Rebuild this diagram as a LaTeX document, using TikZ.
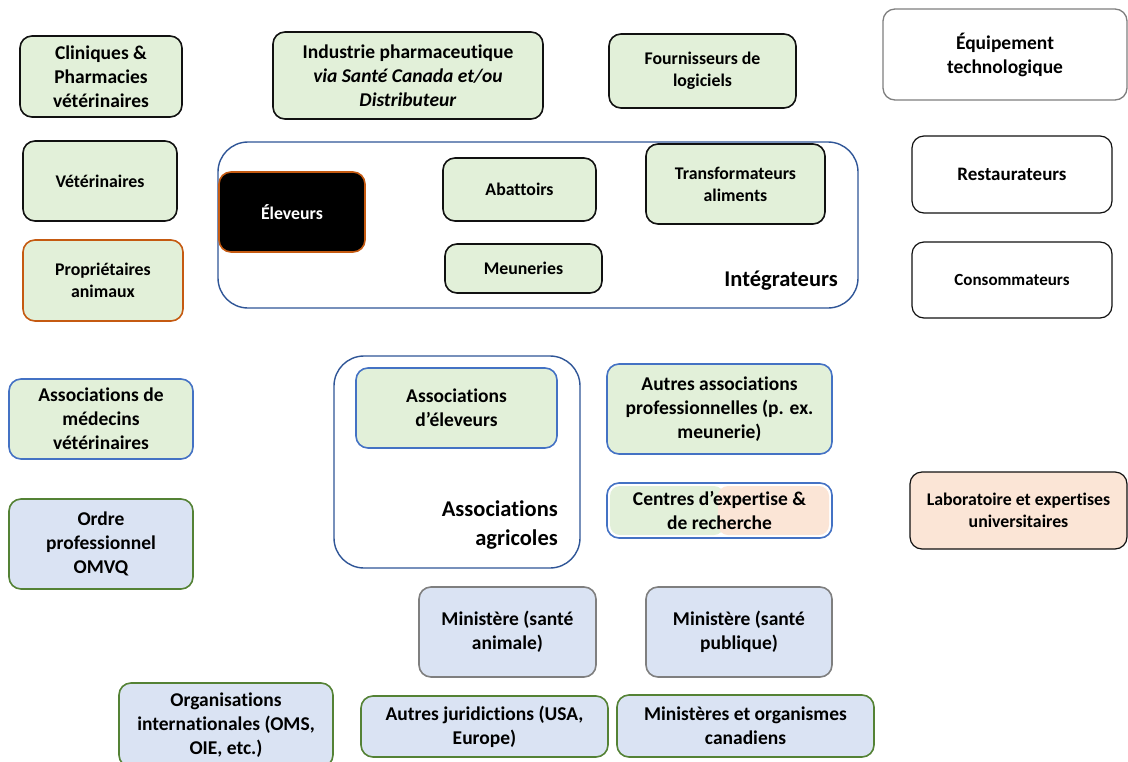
\documentclass[tikz,border=0pt]{standalone}
\usepackage{fontspec}
\setmainfont{Carlito}[Ligatures={NoCommon}]

\definecolor{gfill}{HTML}{E2F0D9}
\definecolor{bfill}{HTML}{DAE3F3}
\definecolor{ofill}{HTML}{FBE5D6}
\definecolor{bline}{HTML}{4472C4}
\definecolor{gline}{HTML}{548235}
\definecolor{oline}{HTML}{C55A11}
\definecolor{kline}{HTML}{111111}
\definecolor{grline}{HTML}{7F7F7F}
\definecolor{cline}{HTML}{2F5597}

\tikzset{
  box/.style={draw, line width=1.6pt, rounded corners=12pt, align=center,
    inner sep=0pt, text=black, font=\fontsize{19.5}{24}\selectfont\bfseries},
  smallfont/.style={font=\fontsize{17.8}{22}\selectfont\bfseries},
  greenbox/.style={box, fill=gfill, draw=kline},
  container/.style={draw=cline, line width=1.4pt, rounded corners=30pt},
  grouplabel/.style={inner sep=0pt, align=right, anchor=east,
    font=\fontsize{22.5}{29}\selectfont\bfseries},
}

% rounded box given by its corners: name, x1, y1, x2, y2, style, text
\newcommand\rbox[7]{%
  \node[#6, minimum width={#4-#2}, minimum height={#5-#3}] (#1)
    at ({(#2+#4)/2},{(#3+#5)/2}) {#7};}

\begin{document}
\begin{tikzpicture}[x=1pt, y=-1pt]
\useasboundingbox[fill=white] (0,0) rectangle (1128,761);

% group frames
\draw[container] (218,142) rectangle (858,308);
\draw[container] (334,356) rectangle (580,568);

% top row
\rbox{cliniques}{20}{36}{182}{117}{greenbox}{Cliniques \&\\Pharmacies\\vétérinaires}
\rbox{industrie}{273}{32}{543}{119}{greenbox}{Industrie pharmaceutique\\\textit{via Santé Canada et/ou}\\\textit{Distributeur}}
\rbox{fournisseurs}{609}{34}{796}{108}{greenbox, smallfont}{Fournisseurs de\\logiciels}
\rbox{equipement}{883}{9}{1127}{100}{box, draw=grline, line width=1.3pt}{Équipement\\technologique}

% left column
\rbox{veterinaires}{23}{141}{177}{221}{greenbox, smallfont}{Vétérinaires}
\rbox{proprietaires}{23}{240}{183}{321}{greenbox, smallfont, draw=oline}{Propriétaires\\animaux}
\rbox{assocmed}{9}{379}{193}{459}{greenbox, draw=bline}{Associations de\\médecins\\vétérinaires}
\rbox{ordre}{9}{499}{193}{589}{box, fill=bfill, draw=gline}{Ordre\\professionnel\\OMVQ}

% integrators
\rbox{eleveurs}{219}{172}{365}{252}{box, smallfont, fill=black, draw=oline, text=white}{Éleveurs}
\rbox{abattoirs}{443}{158}{596}{221}{greenbox, smallfont}{Abattoirs}
\rbox{transformateurs}{646}{144}{825}{224}{greenbox, smallfont}{Transformateurs\\aliments}
\rbox{meuneries}{445}{244}{602}{293}{greenbox, smallfont}{Meuneries}
\node[grouplabel] (lblint) at (838,281) {Intégrateurs};

% right column
\rbox{restaurateurs}{912}{136}{1112}{213}{box, draw=kline, line width=1.2pt, font=\fontsize{19}{23}\selectfont\bfseries}{Restaurateurs}
\rbox{consommateurs}{912}{242}{1112}{318}{box, draw=kline, line width=1.2pt, font=\fontsize{17}{21}\selectfont\bfseries}{Consommateurs}
\rbox{labo}{910}{472}{1127}{549}{box, smallfont, fill=ofill, draw=kline, line width=1.2pt}{Laboratoire et expertises\\universitaires}

% associations
\rbox{assocelev}{356}{368}{557}{448}{greenbox, draw=bline}{Associations\\d’éleveurs}
\node[grouplabel] (lblagr) at (558,525.5) {Associations\\agricoles};
\rbox{autresassoc}{607}{364}{832}{454}{greenbox, draw=bline}{Autres associations\\professionnelles (p. ex.\\meunerie)}

% research centres: two-tone fill under the frame
\fill[gfill, rounded corners=10pt] (610,486) rectangle (724,535);
\fill[ofill, rounded corners=10pt] (718,486) rectangle (829,535);
\rbox{centres}{607}{483}{832}{538}{box, draw=bline}{Centres d’expertise \&\\de recherche}

% ministries and other bodies
\rbox{minanimal}{419}{587}{596}{677}{box, fill=bfill, draw=grline}{Ministère (santé\\animale)}
\rbox{minpublic}{646}{587}{832}{677}{box, fill=bfill, draw=grline}{Ministère (santé\\publique)}
\rbox{orgint}{119}{683}{333}{767}{box, fill=bfill, draw=gline}{Organisations\\internationales (OMS,\\OIE, etc.)}
\rbox{autresjur}{361}{696}{608}{757}{box, fill=bfill, draw=gline}{Autres juridictions (USA,\\Europe)}
\rbox{mincan}{617}{695}{874}{757}{box, fill=bfill, draw=gline}{Ministères et organismes\\canadiens}
\end{tikzpicture}
\end{document}
